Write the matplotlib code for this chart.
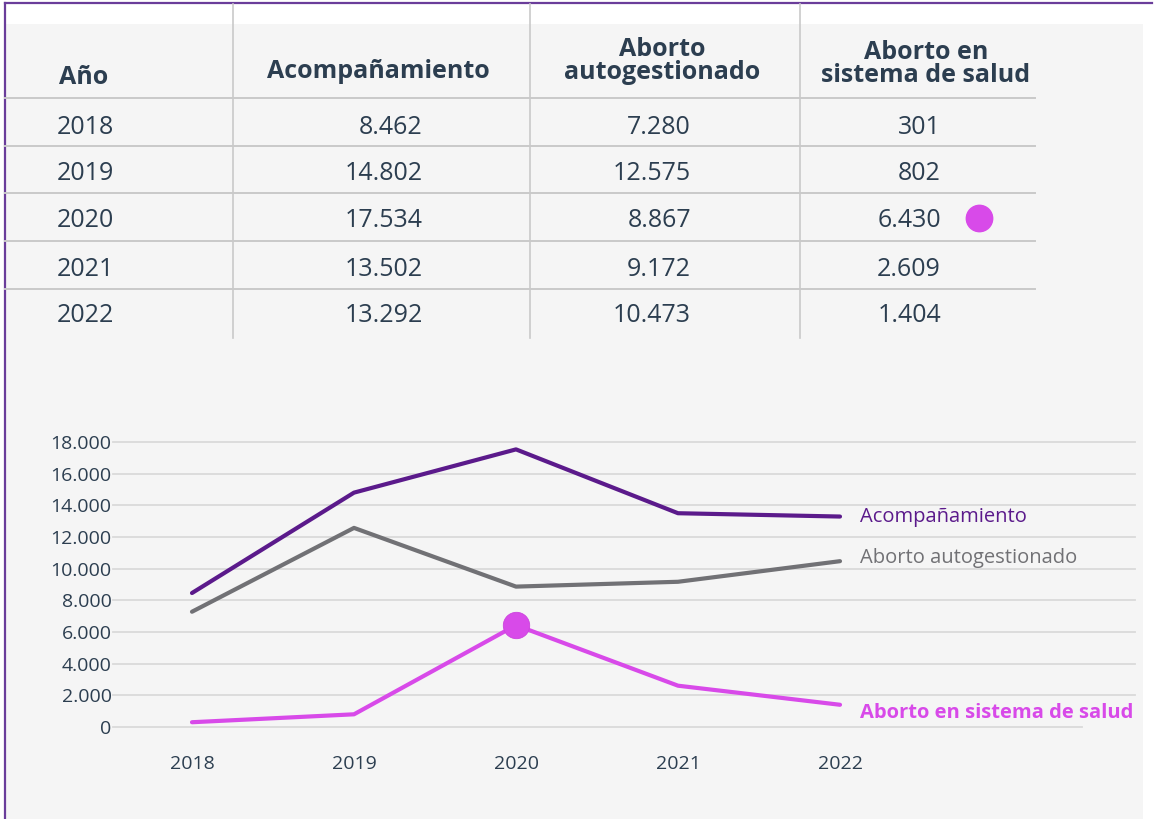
import matplotlib
matplotlib.use("Agg")
import matplotlib.pyplot as plt
from matplotlib.lines import Line2D
from matplotlib.patches import Rectangle

plt.rcParams['font.family'] = ['Open Sans', 'DejaVu Sans']

W, H = 1155, 819

# data
years = [2018, 2019, 2020, 2021, 2022]
acompanamiento = [8462, 14802, 17534, 13502, 13292]
autogestionado = [7280, 12575, 8867, 9172, 10473]
sistema_salud = [301, 802, 6430, 2609, 1404]

headers = ["Año", "Acompañamiento", "Aborto\nautogestionado", "Aborto en\nsistema de salud"]
yticks = [0, 2000, 4000, 6000, 8000, 10000, 12000, 14000, 16000, 18000]

PURPLE = '#5b1a8b'
GRAY = '#717175'
MAGENTA = '#d84ae9'
TEXT = '#2c3e50'
RULE = '#c9c9c9'


def fx(px):
    return px / W


def fy(py):
    return 1 - py / H


def fmt(v):
    return f"{v:,}".replace(",", ".")


fig = plt.figure(figsize=(W / 100, H / 100), dpi=100)
fig.patch.set_facecolor('white')

# background panel and purple frame
fig.add_artist(Rectangle((fx(6), fy(819)), fx(1143) - fx(6), fy(24) - fy(819),
                         transform=fig.transFigure, facecolor='#f5f5f5',
                         edgecolor='none', zorder=0))
fig.add_artist(Line2D([fx(5), fx(1152)], [fy(3), fy(3)], color='#6a3d9a', lw=1.6))
fig.add_artist(Line2D([fx(5), fx(5)], [fy(3), fy(819)], color='#6a3d9a', lw=1.6))

# table rules
for xv in [233, 530, 800]:
    fig.add_artist(Line2D([fx(xv), fx(xv)], [fy(4), fy(338)], color=RULE, lw=1.2))
for yh in [98, 146, 193, 241, 289]:
    fig.add_artist(Line2D([fx(5), fx(1035)], [fy(yh), fy(yh)], color=RULE, lw=1.4))

# header
HF = 18
fig.text(fx(84), fy(77), headers[0], ha='center', va='center',
         fontsize=HF, fontweight='bold', color=TEXT)
fig.text(fx(378), fy(72), headers[1], ha='center', va='center',
         fontsize=HF, fontweight='bold', color=TEXT)
fig.text(fx(662), fy(61), headers[2], ha='center', va='center',
         fontsize=HF, fontweight='bold', color=TEXT, linespacing=0.85)
fig.text(fx(926), fy(64), headers[3], ha='center', va='center',
         fontsize=HF, fontweight='bold', color=TEXT, linespacing=0.85)

VF = 18
row_y = [127, 174, 221, 269, 316]
for i, yr in enumerate(years):
    fig.text(fx(85), fy(row_y[i]), str(yr), ha='center', va='center',
             fontsize=VF, color=TEXT)
    fig.text(fx(423), fy(row_y[i]), fmt(acompanamiento[i]), ha='right', va='center',
             fontsize=VF, color=TEXT)
    fig.text(fx(691), fy(row_y[i]), fmt(autogestionado[i]), ha='right', va='center',
             fontsize=VF, color=TEXT)
    fig.text(fx(941), fy(row_y[i]), fmt(sistema_salud[i]), ha='right', va='center',
             fontsize=VF, color=TEXT)

# highlight dot in table
fig.add_artist(Line2D([fx(979)], [fy(218)], marker='o', markersize=19,
                      color=MAGENTA, markeredgecolor=MAGENTA))

# line chart
ax = fig.add_axes([fx(113), fy(727), fx(1135) - fx(113), fy(442) - fy(727)])
ax.set_facecolor('none')
ax.set_xlim(2018 - 79 / 162, 2022 + 295 / 162)
ax.set_ylim(0, 18000)
for yt in yticks:
    xmax = (1082 - 113) / (1135 - 113) if yt == 0 else 1
    ax.axhline(yt, xmin=0, xmax=xmax, color='#dadada', lw=1.3, zorder=0, clip_on=False)

ax.plot(years, acompanamiento, color=PURPLE, lw=3, solid_capstyle='round', clip_on=False)
ax.plot(years, autogestionado, color=GRAY, lw=3, solid_capstyle='round', clip_on=False)
ax.plot(years, sistema_salud, color=MAGENTA, lw=3, solid_capstyle='round', clip_on=False)
ax.plot([years[2]], [sistema_salud[2]], 'o', color=MAGENTA, markersize=19,
        markeredgecolor='#cc44dd', markeredgewidth=0.6, clip_on=False)

lx = 2022 + 20 / 162
LF = 14.5
ax.text(lx, acompanamiento[-1], "Acompañamiento", color=PURPLE, fontsize=LF,
        va='center', ha='left')
ax.text(lx, autogestionado[-1] + 200, "Aborto autogestionado", color=GRAY, fontsize=LF,
        va='center', ha='left')
ax.text(lx, sistema_salud[-1] - 550, "Aborto en sistema de salud", color=MAGENTA,
        fontsize=LF, fontweight='bold', va='center', ha='left')

ax.set_yticks(yticks)
ax.set_yticklabels([fmt(v) for v in yticks])
ax.set_xticks(years)
ax.set_xticklabels([str(y) for y in years])
ax.tick_params(axis='y', length=0, labelsize=14, colors=TEXT, pad=1)
ax.tick_params(axis='x', length=0, labelsize=14, colors=TEXT, pad=20)
for s in ax.spines.values():
    s.set_visible(False)

fig.savefig('out.png', dpi=100, facecolor=fig.get_facecolor())
